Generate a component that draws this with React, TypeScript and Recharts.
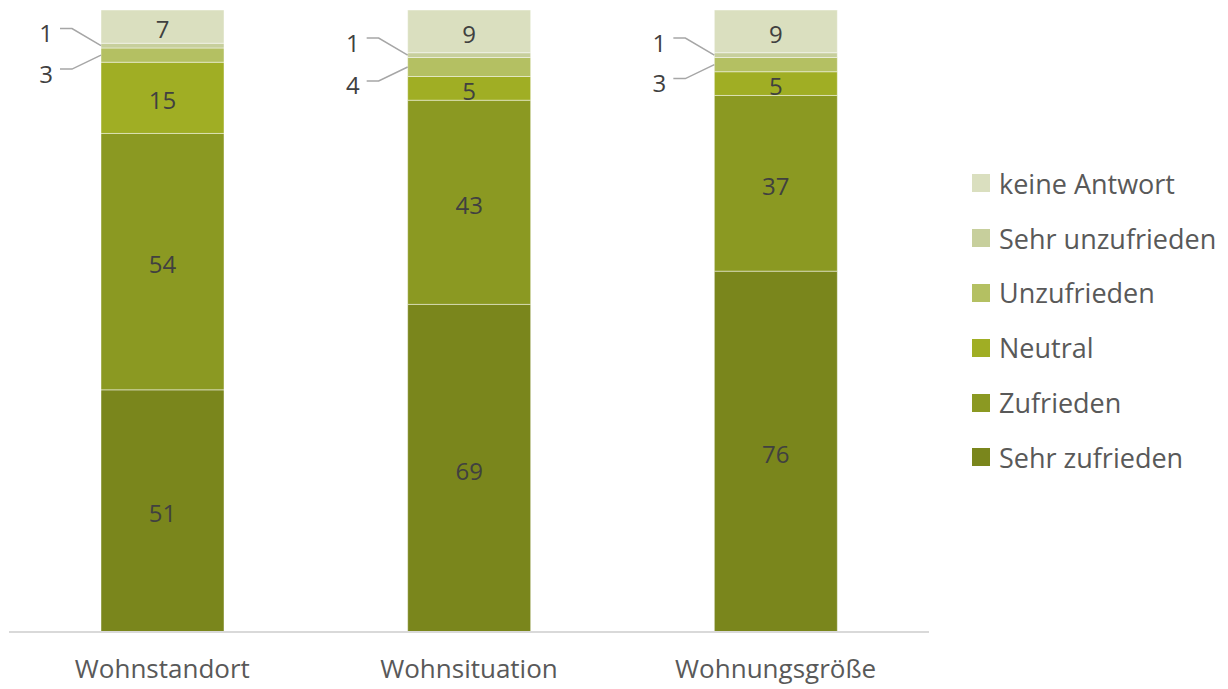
import React from 'react';
import { BarChart, Bar, XAxis, YAxis, LabelList } from 'recharts';

const categories = ['Wohnstandort', 'Wohnsituation', 'Wohnungsgröße'];
const sehrZufrieden = [51, 69, 76];
const zufrieden = [54, 43, 37];
const neutral = [15, 5, 5];
const unzufrieden = [3, 4, 3];
const sehrUnzufrieden = [1, 1, 1];
const keineAntwort = [7, 9, 9];

const series = [
  { key: 'sz', name: 'Sehr zufrieden', values: sehrZufrieden, color: '#7a861c' },
  { key: 'z', name: 'Zufrieden', values: zufrieden, color: '#8b9922' },
  { key: 'n', name: 'Neutral', values: neutral, color: '#a0ae24' },
  { key: 'u', name: 'Unzufrieden', values: unzufrieden, color: '#b4c062' },
  { key: 'su', name: 'Sehr unzufrieden', values: sehrUnzufrieden, color: '#c7cf9c' },
  { key: 'ka', name: 'keine Antwort', values: keineAntwort, color: '#dadfbf' },
];

const data = categories.map((c, i) => {
  const row: any = { name: c };
  series.forEach((s) => (row[s.key] = s.values[i]));
  return row;
});

const FONT = "'Open Sans', 'DejaVu Sans', sans-serif";

const makeLeader = (dy: number) => (props: any) => {
  const { x, y, height, value } = props;
  const mid = y + height / 2;
  const ty = mid + dy;
  const lineY = ty - 4;
  return (
    <g>
      <polyline
        points={`${x - 41},${lineY} ${x - 29},${lineY} ${x},${mid}`}
        fill="none"
        stroke="#a6a6a6"
        strokeWidth={1.5}
      />
      <text x={x - 48} y={ty} textAnchor="end" dominantBaseline="central" fontSize={24} fill="#404040" fontFamily={FONT}>
        {value}
      </text>
    </g>
  );
};

const centerLabel = (props: any) => {
  const { x, y, width, height, value } = props;
  return (
    <text x={x + width / 2} y={y + height / 2 + 2} textAnchor="middle" dominantBaseline="central" fontSize={24} fill="#404040" fontFamily={FONT}>
      {value}
    </text>
  );
};

const LegendBox = () => {
  const items = [...series].reverse();
  return (
    <div style={{ position: 'absolute', left: 964, top: 148, fontFamily: FONT }}>
      {items.map((s) => (
        <div key={s.key} style={{ display: 'flex', alignItems: 'center', height: 54.8 }}>
          <div style={{ width: 18, height: 18, background: s.color, marginRight: 9 }} />
          <span style={{ fontSize: 27, color: '#595959', whiteSpace: 'nowrap' }}>{s.name}</span>
        </div>
      ))}
    </div>
  );
};

export default function App() {
  return (
    <div style={{ width: 1212, height: 681, position: 'relative' }}>
      <BarChart
        width={1212}
        height={681}
        data={data}
        margin={{ top: 2, right: 291, bottom: 8, left: 1 }}
        barCategoryGap="30%"
      >
        <XAxis
          dataKey="name"
          axisLine={{ stroke: '#d9d9d9', strokeWidth: 2 }}
          tickLine={false}
          height={49}
          tickMargin={22}
          tick={{ fontSize: 26, fill: '#595959', fontFamily: FONT }}
        />
        <YAxis hide domain={[0, 131]} />
        {series.map((s) => (
          <Bar
            key={s.key}
            dataKey={s.key}
            name={s.name}
            stackId="a"
            fill={s.color}
            stroke="rgba(255,255,255,0.45)"
            strokeWidth={1}
            isAnimationActive={false}
          >
            {s.key === 'u' ? (
              <LabelList dataKey={s.key} content={makeLeader(18)} />
            ) : s.key === 'su' ? (
              <LabelList dataKey={s.key} content={makeLeader(-13)} />
            ) : (
              <LabelList dataKey={s.key} content={centerLabel} />
            )}
          </Bar>
        ))}
      </BarChart>
      <LegendBox />
    </div>
  );
}
